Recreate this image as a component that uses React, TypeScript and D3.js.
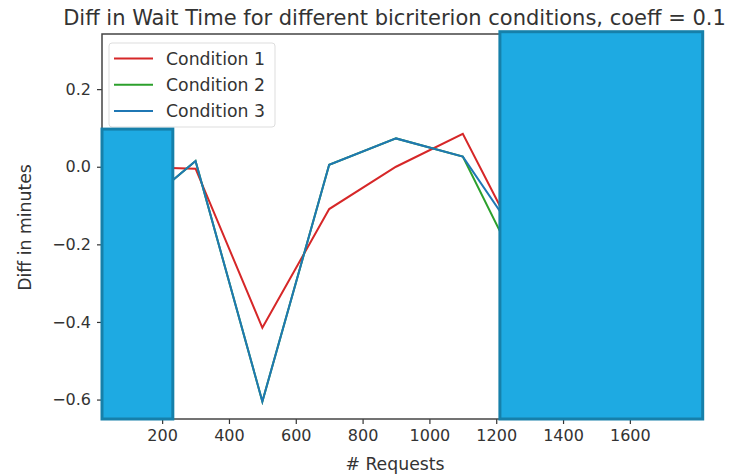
import React, { useEffect, useRef } from 'react';
import * as d3 from 'd3';

const requests = [100, 300, 500, 700, 900, 1100, 1300, 1500, 1700];
const condition1 = [0.0, -0.005, -0.415, -0.109, 0.0, 0.085, -0.25, 0.1, 0.2];
const condition2 = [-0.13, 0.015, -0.605, 0.005, 0.073, 0.026, -0.32, 0.05, 0.297];
const condition3 = [-0.13, 0.015, -0.605, 0.005, 0.073, 0.026, -0.227, 0.08, 0.25];
const seriesNames = ['Condition 1', 'Condition 2', 'Condition 3'];
const seriesColors = ['#d62728', '#2ca02c', '#1f77b4'];
const xTicks = [200, 400, 600, 800, 1000, 1200, 1400, 1600];
const yTicks = [0.2, 0.0, -0.2, -0.4, -0.6];
// occluding boxes in the source image, in data units [x0, x1, yTop]
const boxes = [
  [20, 232, 0.097],
  [1211, 1818, 0.348],
];

const App = () => {
  const ref = useRef<SVGSVGElement>(null);

  useEffect(() => {
    const width = 732;
    const height = 476;
    const margin = { top: 34, right: 42, bottom: 57, left: 102 };
    const svg = d3.select(ref.current);
    svg.selectAll('*').remove();
    svg.attr('width', width).attr('height', height);

    const font = 'DejaVu Sans, sans-serif';
    const series = [condition1, condition2, condition3];

    const allY = series.flat();
    const yMin = d3.min(allY) as number;
    const yMax = d3.max(allY) as number;
    const yPad = (yMax - yMin) * 0.05;
    const xMin = d3.min(requests) as number;
    const xMax = d3.max(requests) as number;
    const xPad = (xMax - xMin) * 0.05;

    const x = d3.scaleLinear()
      .domain([xMin - xPad, xMax + xPad])
      .range([margin.left, width - margin.right]);
    const y = d3.scaleLinear()
      .domain([yMin - yPad, yMax + yPad])
      .range([height - margin.bottom, margin.top]);

    svg.append('rect')
      .attr('width', width).attr('height', height).attr('fill', '#fff');

    const xAxis = svg.append('g')
      .attr('transform', `translate(0, ${height - margin.bottom})`)
      .call(d3.axisBottom(x).tickValues(xTicks).tickFormat(d3.format('d')).tickSize(5).tickPadding(6));
    const yAxis = svg.append('g')
      .attr('transform', `translate(${margin.left}, 0)`)
      .call(d3.axisLeft(y).tickValues(yTicks).tickFormat((d) => d3.format('.1f')(d as number).replace('-', '\u2212')).tickSize(5).tickPadding(6));
    [xAxis, yAxis].forEach((g) => {
      g.select('.domain').remove();
      g.selectAll('line').attr('stroke', '#333').attr('stroke-width', 1.2);
      g.selectAll('text').attr('fill', '#333').attr('font-size', 16).attr('font-family', font);
    });

    // spines
    svg.append('rect')
      .attr('x', margin.left).attr('y', margin.top)
      .attr('width', width - margin.left - margin.right)
      .attr('height', height - margin.top - margin.bottom)
      .attr('fill', 'none').attr('stroke', '#444').attr('stroke-width', 1.5);

    const line = d3.line<number>()
      .x((_, i) => x(requests[i]))
      .y((d) => y(d));

    series.forEach((s, i) => {
      svg.append('path')
        .datum(s)
        .attr('d', line)
        .attr('fill', 'none')
        .attr('stroke', seriesColors[i])
        .attr('stroke-width', 2);
    });

    // legend
    const lg = svg.append('g');
    lg.append('rect')
      .attr('x', 109).attr('y', 43).attr('width', 166).attr('height', 84).attr('rx', 3)
      .attr('fill', '#fff').attr('fill-opacity', 0.8).attr('stroke', '#ddd');
    seriesNames.forEach((name, i) => {
      const cy = 58.5 + i * 26.2;
      lg.append('line')
        .attr('x1', 114).attr('x2', 153).attr('y1', cy).attr('y2', cy)
        .attr('stroke', seriesColors[i]).attr('stroke-width', 2);
      lg.append('text')
        .attr('x', 166).attr('y', cy).attr('dy', '0.35em')
        .attr('font-size', 17.3).attr('font-family', font).attr('fill', '#333')
        .text(name);
    });

    // blue boxes covering parts of the plot
    svg.append('g')
      .selectAll('rect')
      .data(boxes)
      .join('rect')
      .attr('x', (d) => x(d[0]))
      .attr('y', (d) => y(d[2]))
      .attr('width', (d) => x(d[1]) - x(d[0]))
      .attr('height', (d) => y(yMin - yPad) - y(d[2]))
      .attr('fill', '#1eaae2')
      .attr('stroke', '#1680aa')
      .attr('stroke-width', 3);

    svg.append('text')
      .attr('x', 394.5).attr('y', 25)
      .attr('text-anchor', 'middle')
      .attr('font-size', 21).attr('font-family', font).attr('fill', '#333')
      .text('Diff in Wait Time for different bicriterion conditions, coeff = 0.1');

    svg.append('text')
      .attr('x', 395).attr('y', 470)
      .attr('text-anchor', 'middle')
      .attr('font-size', 17.3).attr('font-family', font).attr('fill', '#333')
      .text('# Requests');

    svg.append('text')
      .attr('transform', `translate(31, ${(margin.top + height - margin.bottom) / 2 + 1}) rotate(-90)`)
      .attr('text-anchor', 'middle')
      .attr('font-size', 17.3).attr('font-family', font).attr('fill', '#333')
      .text('Diff in minutes');
  }, []);

  return (
    <div style={{ position: 'absolute', left: 0, top: 0 }}>
      <svg ref={ref} style={{ display: 'block' }} />
    </div>
  );
};

export default App;
